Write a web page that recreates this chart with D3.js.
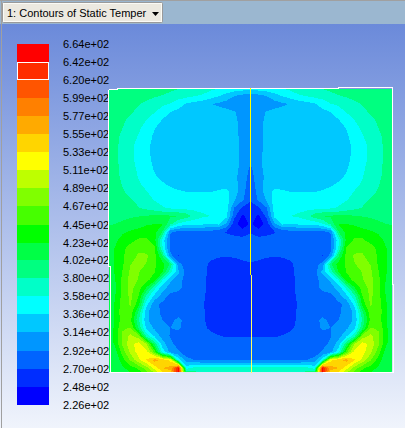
<!DOCTYPE html>
<html>
<head>
<meta charset="utf-8">
<script src="https://cdn.jsdelivr.net/npm/d3@7"></script>
<style>
html, body { margin: 0; padding: 0; overflow: hidden; background: #fff; }
</style>
</head>
<body>
<div id="chart"></div>
<script>
var w = 405,
    h = 428;

// legend, top to bottom
var tickLabels = ["6.64e+02", "6.42e+02", "6.20e+02", "5.99e+02", "5.77e+02", "5.55e+02", "5.33e+02",
    "5.11e+02", "4.89e+02", "4.67e+02", "4.45e+02", "4.23e+02", "4.02e+02", "3.80e+02",
    "3.58e+02", "3.36e+02", "3.14e+02", "2.92e+02", "2.70e+02", "2.48e+02", "2.26e+02"];

// bottom to top
var bandColors = ["#0000ff", "#002dff", "#0064ff", "#0096ff", "#00c8ff", "#00ffff", "#00ffc8", "#00ff80",
    "#00ff46", "#00ff00", "#46ff00", "#80ff00", "#beff00", "#ffff00", "#ffd500", "#ffaa00",
    "#ff8000", "#ff5500", "#ff2d00", "#ff0000"];

var title = "1: Contours of Static Temper";

var gridXs = [106, 114, 122, 130, 138, 146, 154, 162, 170, 178, 186, 194, 202, 210, 218, 226, 234, 242, 250];
var gridYs = d3.range(88, 377, 8);
var tempHalf = [
    [395,395,395,395,394,392,390,388,386,382,378,374,370,364,360,356,352,350,348],
    [396,396,396,394,390,386,382,379,373,368,364,359,355,346,337,326,314,306,304],
    [398,396,392,386,381,376,370,362,357,345,334,328,322,315,310,305,303,302,302],
    [398,394,388,382,376,367,359,347,336,330,326,325,325,325,324,320,315,306,303],
    [396,390,383,376,367,358,346,335,328,326,325,325,325,325,325,324,318,307,304],
    [394,388,380,370,361,352,337,329,326,325,325,325,325,325,325,324,319,308,305],
    [392,385,377,366,357,344,333,327,326,325,325,325,325,325,325,324,319,309,305],
    [391,384,376,363,353,341,331,326,325,325,325,325,325,325,325,324,319,309,305],
    [390,384,375,362,352,340,331,326,325,325,325,325,325,325,325,324,319,309,303],
    [390,384,375,362,353,341,332,326,325,325,325,325,325,325,325,325,320,309,298],
    [390,385,376,364,355,344,334,328,326,325,325,325,325,325,325,325,320,308,288],
    [391,385,377,366,357,346,338,331,327,326,326,326,326,326,326,326,319,305,283],
    [392,386,379,368,360,353,345,338,333,330,328,327,327,327,327,328,321,303,279],
    [393,388,382,375,367,359,352,346,341,338,336,336,336,336,339,342,324,300,276],
    [396,391,387,382,375,365,357,352,349,347,346,346,346,347,348,347,316,295,272],
    [399,395,391,387,381,375,368,360,355,352,351,351,351,351,350,345,290,266,262],
    [398,398,399,400,401,403,406,405,405,403,392,372,362,358,352,342,275,245,258],
    [400,402,404,408,413,420,423,424,385,355,342,342,340,335,340,310,258,230,254],
    [408,412,420,426,432,436,430,400,295,284,283,283,283,283,278,268,262,258,268],
    [405,418,430,437,448,448,432,352,284,282,282,282,282,282,281,280,279,278,278],
    [400,423,438,455,462,460,448,360,283,282,282,282,282,282,281,280,279,278,276],
    [402,425,442,458,470,470,453,400,300,268,282,282,280,276,272,271,272,275,279],
    [405,424,442,466,476,466,448,432,398,300,282,281,278,266,262,262,263,266,268],
    [400,424,446,472,468,455,446,425,365,320,282,281,277,264,260,260,260,260,260],
    [400,420,450,474,466,452,432,360,318,300,284,282,277,262,260,260,260,260,260],
    [398,415,452,474,455,420,365,322,305,298,284,282,277,262,260,260,260,260,260],
    [400,420,452,472,445,375,330,305,285,283,282,281,275,260,258,258,258,258,258],
    [400,424,456,470,432,345,300,287,283,282,281,280,273,258,258,258,258,258,258],
    [402,425,458,460,398,320,299,288,284,280,282,281,274,260,258,258,258,258,258],
    [405,425,455,450,385,318,302,292,286,298,283,281,274,262,258,258,258,258,258],
    [408,425,465,468,400,330,310,300,292,296,283,281,275,266,262,262,262,262,262],
    [408,428,470,495,475,372,332,305,290,283,281,280,278,276,271,268,268,268,268],
    [405,425,470,505,520,490,400,325,298,283,280,279,279,279,280,280,280,280,280],
    [404,410,455,495,520,520,460,350,305,295,280,280,280,280,280,280,280,280,280],
    [403,405,435,470,505,535,565,550,525,350,300,292,290,288,288,288,288,288,288],
    [402,408,418,435,450,480,520,555,565,650,350,365,365,365,365,365,365,365,365],
    [400,402,408,415,425,445,470,505,530,640,420,400,395,395,395,395,395,395,395]
];

// plot frame corners on the page
var frame = { left: 109, right: 392, top: 89, bottom: 372 };

var tempField = [];
tempHalf.forEach(function(row) {
    tempField = tempField.concat(row, row.slice(0, -1).reverse());
});

var thresholds = tickLabels.map(Number).reverse();
var nx = gridXs.length * 2 - 1,
    ny = gridYs.length;

var x = d3.scaleLinear().domain([0, nx - 1]).range([106.5, 394.5]);
var y = d3.scaleLinear().domain([0, ny - 1]).range([88, 376]);
var legendY = d3.scaleLinear().domain([226, 664]).range([405, 44]);

var svg = d3.select("#chart").append("svg")
    .attr("width", w)
    .attr("height", h)
    .style("display", "block");

var defs = svg.append("defs");

var bg = defs.append("linearGradient")
    .attr("id", "bg")
    .attr("x1", 0).attr("x2", 0)
    .attr("y1", 0).attr("y2", 1);
bg.append("stop").attr("offset", 0).attr("stop-color", "#6b8ada");
bg.append("stop").attr("offset", 1).attr("stop-color", "#f0f4fc");

defs.append("clipPath").attr("id", "frameClip")
    .append("rect")
    .attr("x", frame.left)
    .attr("y", frame.top)
    .attr("width", frame.right - frame.left)
    .attr("height", frame.bottom - frame.top);

// window background
svg.append("rect").attr("width", w).attr("height", 24).attr("fill", "#9bb7d0");
svg.append("rect").attr("width", w).attr("height", 1).attr("fill", "#a0a0a0");
svg.append("rect").attr("y", 24).attr("width", w).attr("height", h - 24).attr("fill", "url(#bg)");
svg.append("rect").attr("width", 1).attr("height", h).attr("x", 1).attr("fill", "#a0a0a0");

// dropdown
svg.append("rect")
    .attr("x", 2.5).attr("y", 2.5)
    .attr("width", 160).attr("height", 20)
    .attr("rx", 1)
    .attr("fill", "#ece9e0")
    .attr("stroke", "#9a9a9a");
svg.append("rect")
    .attr("x", 3.5).attr("y", 3.5)
    .attr("width", 158).attr("height", 18)
    .attr("fill", "none")
    .attr("stroke", "#fbfbf6");
svg.append("text")
    .attr("x", 7).attr("y", 17)
    .attr("font-family", "'Liberation Sans', Arial, sans-serif")
    .attr("font-size", 11)
    .attr("fill", "#000")
    .text(title);
svg.append("path")
    .attr("d", "M152 12h7l-3.500 4z")
    .attr("fill", "#000");

// legend swatches
svg.append("g").selectAll("rect")
    .data(bandColors)
    .enter().append("rect")
    .attr("x", 17)
    .attr("width", 32)
    .attr("y", function(d, i) { return Math.round(legendY(thresholds[i + 1])); })
    .attr("height", function(d, i) { return Math.round(legendY(thresholds[i])) - Math.round(legendY(thresholds[i + 1])); })
    .attr("fill", function(d) { return d; })
    .attr("shape-rendering", "crispEdges");

// the band that is highlighted in the legend
svg.append("rect")
    .attr("x", 17.5)
    .attr("width", 31)
    .attr("y", Math.round(legendY(thresholds[19])) + 0.5)
    .attr("height", Math.round(legendY(thresholds[18])) - Math.round(legendY(thresholds[19])) - 1)
    .attr("fill", "none")
    .attr("stroke", "#fff");

svg.append("g").selectAll("text")
    .data(tickLabels)
    .enter().append("text")
    .attr("x", 63)
    .attr("y", function(d) { return legendY(+d) + 4; })
    .attr("font-family", "'Liberation Sans', Arial, sans-serif")
    .attr("font-size", 11)
    .attr("fill", "#000")
    .text(function(d) { return d; });

// filled contours
var contours = d3.contours()
    .size([nx, ny])
    .thresholds(thresholds.slice(0, -1))(tempField);

var path = d3.geoPath(d3.geoTransform({
    point: function(px, py) {
        this.stream.point(x(px - 0.5), y(py - 0.5));
    }
}));

svg.append("rect")
    .attr("x", frame.left)
    .attr("y", frame.top)
    .attr("width", frame.right - frame.left)
    .attr("height", frame.bottom - frame.top)
    .attr("fill", bandColors[0]);

svg.append("g")
    .attr("clip-path", "url(#frameClip)")
    .selectAll("path")
    .data(contours)
    .enter().append("path")
    .attr("d", path)
    .attr("fill", function(d, i) { return bandColors[i]; })
    .attr("shape-rendering", "crispEdges");

// frame and centre line
var line = d3.line();
var edges = [
    [[108.5, 90], [108.5, 266], [110, 266], [110, 372.500], [176, 372.500]],
    [[108.500, 89.500], [117, 89.500], [117, 88.500], [338, 88.500], [338, 87.500], [392.500, 87.500], [392.500, 284], [393.500, 284], [393.500, 372.500], [323, 372.500]]
];
svg.append("g").selectAll("path")
    .data(edges)
    .enter().append("path")
    .attr("d", line)
    .attr("fill", "none")
    .attr("stroke", "#fff")
    .attr("shape-rendering", "crispEdges");

svg.append("path")
    .attr("d", line([[250.5, 88], [250.5, 275]]))
    .attr("stroke", "#ffff00")
    .attr("fill", "none");
svg.append("path")
    .attr("d", line([[251.5, 275], [251.5, 373]]))
    .attr("stroke", "#ffff60")
    .attr("fill", "none");
</script>
</body>
</html>
